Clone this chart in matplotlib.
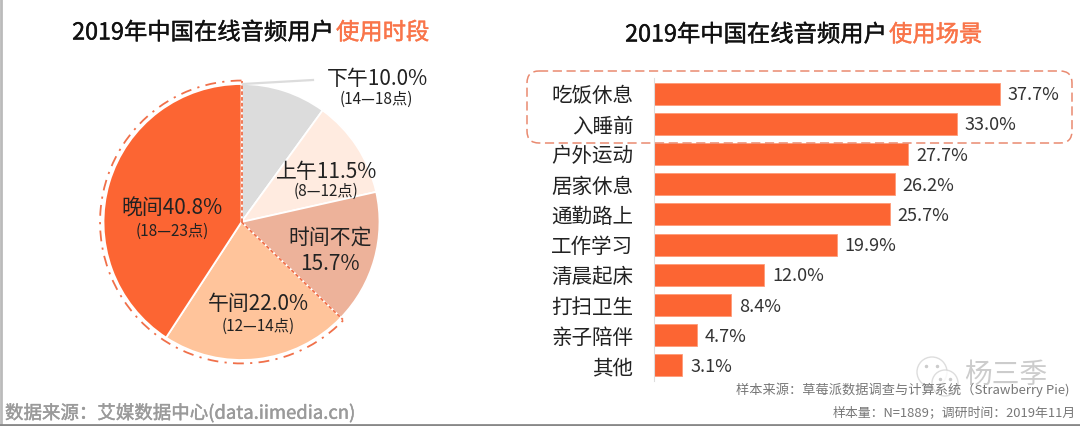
import numpy as np
import matplotlib
matplotlib.use("Agg")
import matplotlib.pyplot as plt
import matplotlib.patheffects as pe
from matplotlib.patches import Arc, Circle, FancyBboxPatch

plt.rcParams['font.family'] = ['Noto Sans CJK SC', 'DejaVu Sans']

W, H = 1080, 426
ORANGE = "#FC6533"
DASH = "#F0704A"
TEXT = "#222222"

# pie data, clockwise from the top
pie_names = ["下午", "上午", "时间不定", "午间", "晚间"]
pie_values = [10.0, 11.5, 15.7, 22.0, 40.8]
pie_colors = ["#DCDCDC", "#FFEBE0", "#EDB29A", "#FFC49B", ORANGE]
pie_hours = ["(14—18点)", "(8—12点)", "", "(12—14点)", "(18—23点)"]

# bar data
bar_names = ["吃饭休息", "入睡前", "户外运动", "居家休息", "通勤路上",
             "工作学习", "清晨起床", "打扫卫生", "亲子陪伴", "其他"]
bar_values = [37.7, 33.0, 27.7, 26.2, 25.7, 19.9, 12.0, 8.4, 4.7, 3.1]


def px_axes(x0, y0, x1, y1):
    # axes placed with pixel coordinates, y from the top of the picture
    return fig.add_axes([x0 / W, 1 - y1 / H, (x1 - x0) / W, (y1 - y0) / H])


fig = plt.figure(figsize=(W / 100, H / 100), dpi=100, facecolor="white")

# pie
cx, cy, r = 241.5, 222, 138
ax_pie = px_axes(cx - 1.1 * r, cy - 1.1 * r, cx + 1.1 * r, cy + 1.1 * r)
ax_pie.pie(pie_values, colors=pie_colors, startangle=90, counterclock=False,
           radius=1, wedgeprops=dict(edgecolor="white", linewidth=1.3))
ax_pie.set_xlim(-1.1, 1.1)
ax_pie.set_ylim(-1.1, 1.1)

# dash-dot outline around evening + noon
end_angle = 90 - sum(pie_values[:3]) * 3.6 + 360
ax_pie.add_patch(Arc((0, 0), 2.05, 2.05, theta1=90, theta2=end_angle, color=DASH,
                     linewidth=1.3, linestyle=(0, (6, 3.5, 1.2, 3.5))))
ang = np.deg2rad(end_angle)
ax_pie.plot([0, 0], [0, 1.02], color=DASH, linewidth=1.3, linestyle=(0, (2, 1.2)))
ax_pie.plot([0, 1.02 * np.cos(ang)], [0, 1.02 * np.sin(ang)],
            color=DASH, linewidth=1.3, linestyle=(0, (2, 1.2)))

# bars
bar_left, bar_right = 654, 654 + 9.18 * 44
ax_bar = px_axes(bar_left, 78.5, bar_right, 380.5)
ypos = list(range(len(bar_names)))
ax_bar.barh(ypos, bar_values, height=0.73, color=ORANGE, edgecolor="#FF9B78", linewidth=0.6)
ax_bar.set_xlim(0, 44)
ax_bar.set_ylim(len(bar_names) - 0.5, -0.5)
ax_bar.set_yticks(ypos)
ax_bar.set_yticklabels(bar_names, fontsize=14.8, color=TEXT)
ax_bar.set_xticks([])
ax_bar.tick_params(axis="y", length=0, pad=15)
for s in ["top", "right", "bottom"]:
    ax_bar.spines[s].set_visible(False)
ax_bar.spines["left"].set_color("#DDDDDD")
ax_bar.patch.set_alpha(0)
for i, v in enumerate(bar_values):
    ax_bar.text(v + 0.85, i + 0.05, "%.1f%%" % v, fontsize=13, color="#333333", va="center", ha="left")

# overlay in pixel coordinates for the texts
ov = fig.add_axes([0, 0, 1, 1], zorder=5)
ov.set_xlim(0, W)
ov.set_ylim(H, 0)
ov.axis("off")
ov.patch.set_alpha(0)


def t(x, y, s, size, color=TEXT, ha="center", stroke=0, alpha=1):
    txt = ov.text(x, y + 2, s, fontsize=size, color=color, ha=ha, va="center", alpha=alpha)
    if stroke:
        # the installed font has no medium weight, thicken it a little
        txt.set_path_effects([pe.withStroke(linewidth=stroke, foreground=color)])


# titles
t(334, 31, "2019年中国在线音频用户", 16.8, "#111111", "right", 0.3)
t(336, 31, "使用时段", 16.8, "#F9754A", "left", 0.3)
t(887, 33, "2019年中国在线音频用户", 16.8, "#111111", "right", 0.3)
t(889, 33, "使用场景", 16.8, "#F9754A", "left", 0.3)

# pie labels
t(377, 77, pie_names[0] + "%.1f%%" % pie_values[0], 15)
t(376, 97, pie_hours[0], 11)
t(327, 170, pie_names[1] + "%.1f%%" % pie_values[1], 15)
t(326, 189, pie_hours[1], 11)
t(330, 237, pie_names[2], 15)
t(330, 262, "%.1f%%" % pie_values[2], 15)
t(258, 302, pie_names[3] + "%.1f%%" % pie_values[3], 15)
t(258, 324, pie_hours[3], 11)
t(172, 207, pie_names[4] + "%.1f%%" % pie_values[4], 15)
t(172, 229, pie_hours[4], 11)

# leader line of the afternoon slice
ov.plot([243, 313], [84, 80], color="#DCDCDC", linewidth=1.6)

# rounded dashed frame around the first two bars
ov.add_patch(FancyBboxPatch((527, 71), 545, 72, boxstyle="round,pad=0,rounding_size=12",
                            fill=False, edgecolor="#E98A70", linewidth=1.1,
                            linestyle=(0, (6, 3))))

# footer
t(5, 411, "数据来源：艾媒数据中心(data.iimedia.cn)", 13.3, "#9A9A9A", "left", 0.3)
t(1069, 388, "样本来源：草莓派数据调查与计算系统（Strawberry Pie)", 9.5, "#777777", "right")
t(1076, 411, "样本量：N=1889；调研时间：2019年11月", 9.3, "#777777", "right")

# page edges
ov.plot([1, 1], [0, 426], color="#BBBBBB", linewidth=2)
ov.plot([0, 1080], [424.5, 424.5], color="#888888", linewidth=2)

# watermark
ov.add_patch(Circle((932, 372), 15, facecolor="white", edgecolor="#D5D5D5", linewidth=1, alpha=0.8))
ov.add_patch(Circle((945, 383), 13, facecolor="white", edgecolor="#D5D5D5", linewidth=1, alpha=0.8))
ov.plot([926, 937, 940, 950], [366, 366, 379, 379], linestyle="none", marker="o", markersize=1.5, color="#CCCCCC")
t(1006, 373, "杨三季", 20, "#BBBBBB", alpha=0.75)

fig.savefig("out.png", dpi=100, facecolor="white")
